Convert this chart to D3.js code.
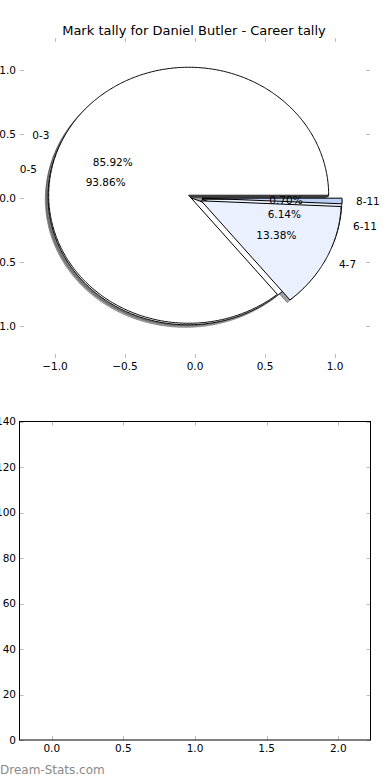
<!DOCTYPE html>
<html>
<head>
<meta charset="utf-8">
<script src="https://cdn.jsdelivr.net/npm/d3@7"></script>
<style>
body { margin: 0; background: #fff; }
svg { display: block; font-family: "DejaVu Sans", sans-serif; }
</style>
</head>
<body>
<div id="chart"></div>
<script>
// career tally, first grouping
var labelsA = ["0-3", "4-7", "8-11"];
var countsA = [122, 19, 1];
// second grouping
var labelsB = ["0-5", "6-11"];
var countsB = [107, 7];
var wedgeColors = ["#ffffff", "#eaf0fd", "#bcd0f5"];

var pieTicks = [-1, -0.5, 0, 0.5, 1];
var barXTicks = [0, 0.5, 1, 1.5, 2];
var barYTicks = [0, 20, 40, 60, 80, 100, 120, 140];
var title = "Mark tally for Daniel Butler - Career tally";

var W = 390, H = 780;
var explode = 0.05, labelDist = 1.1, pctDist = 0.6;
var tickColor = "#bbbbbb";

var svg = d3.select("#chart").append("svg")
	.attr("width", W)
	.attr("height", H);

// top axes (pie, aspect not equal)
var x = d3.scaleLinear().domain([-1.25, 1.25]).range([20, 370]);
var y = d3.scaleLinear().domain([-1.25, 1.25]).range([358, 38]);

var line = d3.line()
	.x(function (d) { return x(d[0]); })
	.y(function (d) { return y(d[1]); });

function wedgePath(cx, cy, a0, a1) {
	var n = Math.max(2, Math.ceil((a1 - a0) / 0.01));
	var pts = [[cx, cy]];
	d3.range(n + 1).forEach(function (i) {
		var t = a0 + (a1 - a0) * i / n;
		pts.push([cx + Math.cos(t), cy + Math.sin(t)]);
	});
	return line(pts) + "Z";
}

function buildPie(counts, labels) {
	var total = d3.sum(counts);
	// angles counter-clockwise from 3 o'clock, like matplotlib
	var arcs = d3.pie().sort(null).startAngle(0).endAngle(2 * Math.PI)(counts);
	return arcs.map(function (a, i) {
		var mid = (a.startAngle + a.endAngle) / 2;
		return {
			label: labels[i],
			pct: (100 * counts[i] / total).toFixed(2) + "%",
			a0: a.startAngle,
			a1: a.endAngle,
			mid: mid,
			cx: explode * Math.cos(mid),
			cy: explode * Math.sin(mid),
			color: wedgeColors[i % wedgeColors.length]
		};
	});
}

var pieA = buildPie(countsA, labelsA);
var pieB = buildPie(countsB, labelsB);

var gPie = svg.append("g");

// shadows first, below every wedge
[pieB, pieA].forEach(function (pie) {
	gPie.selectAll(null)
		.data(pie)
		.enter().append("path")
		.attr("d", function (d) { return wedgePath(d.cx - 0.02, d.cy - 0.02, d.a0, d.a1); })
		.style("fill", function (d) { var c = d3.rgb(d.color); return d3.rgb(c.r * 0.3, c.g * 0.3, c.b * 0.3); })
		.style("fill-opacity", 0.5)
		.style("stroke", function (d) { var c = d3.rgb(d.color); return d3.rgb(c.r * 0.3, c.g * 0.3, c.b * 0.3); })
		.style("stroke-opacity", 0.5)
		.style("stroke-width", 1);
});

[pieB, pieA].forEach(function (pie) {
	gPie.selectAll(null)
		.data(pie)
		.enter().append("path")
		.attr("d", function (d) { return wedgePath(d.cx, d.cy, d.a0, d.a1); })
		.style("fill", function (d) { return d.color; })
		.style("stroke", "#000")
		.style("stroke-width", 1)
		.style("stroke-linejoin", "miter");
});

[pieB, pieA].forEach(function (pie) {
	gPie.selectAll(null)
		.data(pie)
		.enter().append("text")
		.attr("x", function (d) { return x(d.cx + labelDist * Math.cos(d.mid)); })
		.attr("y", function (d) { return y(d.cy + labelDist * Math.sin(d.mid)); })
		.attr("dy", "0.35em")
		.attr("text-anchor", function (d) { return (d.cx + labelDist * Math.cos(d.mid)) > 0 ? "start" : "end"; })
		.style("font-size", "10.5px")
		.text(function (d) { return d.label; });

	gPie.selectAll(null)
		.data(pie)
		.enter().append("text")
		.attr("x", function (d) { return x(d.cx + pctDist * Math.cos(d.mid)); })
		.attr("y", function (d) { return y(d.cy + pctDist * Math.sin(d.mid)); })
		.attr("dy", "0.35em")
		.attr("text-anchor", "middle")
		.style("font-size", "10.5px")
		.text(function (d) { return d.pct; });
});

// ticks of the pie axes (no frame)
var gTicks = svg.append("g").style("stroke", tickColor).style("stroke-width", 1);
pieTicks.forEach(function (t) {
	var px = Math.round(x(t)) + 0.5, py = Math.round(y(t)) + 0.5;
	gTicks.append("line").attr("x1", px).attr("x2", px).attr("y1", 38).attr("y2", 42);
	gTicks.append("line").attr("x1", px).attr("x2", px).attr("y1", 358).attr("y2", 354);
	gTicks.append("line").attr("x1", 20).attr("x2", 24).attr("y1", py).attr("y2", py);
	gTicks.append("line").attr("x1", 370).attr("x2", 366).attr("y1", py).attr("y2", py);
});

var fmt = d3.format(".1f");
svg.append("g").selectAll("text")
	.data(pieTicks)
	.enter().append("text")
	.attr("x", function (d) { return x(d); })
	.attr("y", 366)
	.attr("dy", "0.35em")
	.attr("text-anchor", "middle")
	.style("font-size", "10.5px")
	.text(function (d) { return fmt(d); });

svg.append("g").selectAll("text")
	.data(pieTicks)
	.enter().append("text")
	.attr("x", 16)
	.attr("y", function (d) { return y(d); })
	.attr("dy", "0.35em")
	.attr("text-anchor", "end")
	.style("font-size", "10.5px")
	.text(function (d) { return fmt(d); });

svg.append("text")
	.attr("x", 194)
	.attr("y", 30)
	.attr("dy", "0.35em")
	.attr("text-anchor", "middle")
	.style("font-size", "13px")
	.text(title);

// bottom axes, empty
var x2 = d3.scaleLinear().domain([-0.225, 2.225]).range([19.5, 370.5]);
var y2 = d3.scaleLinear().domain([0, 140]).range([740, 421.5]);

var gB = svg.append("g");
var gBt = gB.append("g").style("stroke", tickColor).style("stroke-width", 1);
barXTicks.forEach(function (t) {
	var px = Math.round(x2(t)) + 0.5;
	gBt.append("line").attr("x1", px).attr("x2", px).attr("y1", 421.5).attr("y2", 425.5);
	gBt.append("line").attr("x1", px).attr("x2", px).attr("y1", 740).attr("y2", 736);
});
barYTicks.forEach(function (t) {
	var py = Math.round(y2(t)) + 0.5;
	gBt.append("line").attr("x1", 19.5).attr("x2", 23.5).attr("y1", py).attr("y2", py);
	gBt.append("line").attr("x1", 370.5).attr("x2", 366.5).attr("y1", py).attr("y2", py);
});

gB.append("rect")
	.attr("x", 19.5)
	.attr("y", 421.5)
	.attr("width", 351)
	.attr("height", 318.5)
	.style("fill", "none")
	.style("stroke", "#000")
	.style("stroke-width", 1);

gB.selectAll(".xl")
	.data(barXTicks)
	.enter().append("text")
	.attr("x", function (d) { return x2(d); })
	.attr("y", 748.5)
	.attr("dy", "0.35em")
	.attr("text-anchor", "middle")
	.style("font-size", "10.5px")
	.text(function (d) { return fmt(d); });

gB.selectAll(".yl")
	.data(barYTicks)
	.enter().append("text")
	.attr("x", 16)
	.attr("y", function (d) { return y2(d); })
	.attr("dy", "0.35em")
	.attr("text-anchor", "end")
	.style("font-size", "10.5px")
	.text(function (d) { return d; });

svg.append("text")
	.attr("x", 0)
	.attr("y", 770)
	.attr("dy", "0.35em")
	.style("font-size", "12px")
	.style("fill", "#8a8a8a")
	.text("Dream-Stats.com");
</script>
</body>
</html>
